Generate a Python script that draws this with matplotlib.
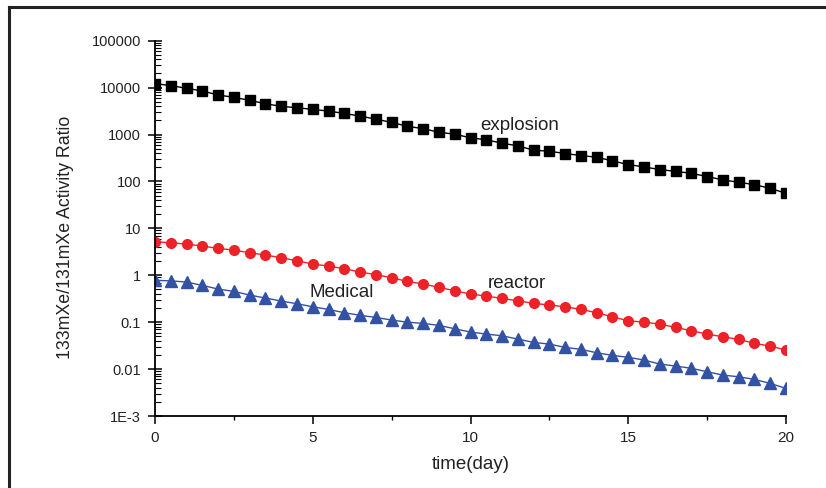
import numpy as np
import matplotlib
matplotlib.use("Agg")
import matplotlib.pyplot as plt
from matplotlib.lines import Line2D
from matplotlib.ticker import LogLocator, MultipleLocator

plt.rcParams['font.family'] = ['Liberation Sans', 'DejaVu Sans']

time_day = np.arange(0, 20.01, 0.5)

explosion = [12180, 11040, 9680, 8480, 6960, 6210, 5350, 4540, 3980, 3730, 3430,
             3160, 2820, 2470, 2130, 1810, 1500, 1330, 1122, 1016, 851, 772, 653,
             574, 463, 441, 393, 357, 328, 274, 229, 204, 179, 164, 149, 127, 108,
             96, 85.5, 71, 56]
reactor = [5.18, 4.93, 4.62, 4.19, 3.74, 3.44, 3.02, 2.70, 2.36, 2.04, 1.73, 1.57,
           1.38, 1.17, 1.03, 0.885, 0.74, 0.65, 0.552, 0.468, 0.397, 0.36, 0.321,
           0.286, 0.252, 0.232, 0.213, 0.187, 0.159, 0.130, 0.107, 0.100, 0.091,
           0.0775, 0.0656, 0.0557, 0.0489, 0.043, 0.0353, 0.031, 0.0254]
medical = [0.78, 0.76, 0.716, 0.608, 0.508, 0.453, 0.378, 0.327, 0.282, 0.247,
           0.213, 0.187, 0.159, 0.14, 0.126, 0.111, 0.1, 0.094, 0.0855, 0.0723,
           0.0615, 0.0557, 0.0513, 0.0436, 0.037, 0.0341, 0.029, 0.0263, 0.0223,
           0.0196, 0.0178, 0.0156, 0.0128, 0.0116, 0.0104, 0.00876, 0.00745,
           0.00685, 0.00603, 0.00495, 0.00387]

ytick_vals = [1e-3, 1e-2, 1e-1, 1, 10, 100, 1000, 10000, 100000]
ytick_labels = ['1E-3', '0.01', '0.1', '1', '10', '100', '1000', '10000', '100000']
xtick_vals = [0, 5, 10, 15, 20]
xtick_labels = ['0', '5', '10', '15', '20']

fig = plt.figure(figsize=(8.26, 4.88), dpi=100)
ax = fig.add_axes([155/826, 1-416/488, (786-155)/826, (416-40.7)/488])

ax.plot(time_day, explosion, color='black', marker='s', markersize=7, lw=1.0)
ax.plot(time_day, reactor, color='#ec2228', marker='o', markersize=7, lw=1.0)
ax.plot(time_day, medical, color='#3352a4', marker='^', markersize=8, lw=1.0)

ax.set_yscale('log')
ax.set_xlim(0, 20)
ax.set_ylim(1e-3, 1e5)
ax.set_yticks(ytick_vals)
ax.set_yticklabels(ytick_labels, fontsize=10.5, color='#222222')
ax.set_xticks(xtick_vals)
ax.set_xticklabels(xtick_labels, fontsize=11, color='#222222')
ax.yaxis.set_minor_locator(LogLocator(base=10, subs=np.arange(2, 10), numticks=20))
ax.yaxis.set_minor_formatter(plt.NullFormatter())
ax.xaxis.set_minor_locator(MultipleLocator(2.5))

for s in ['top', 'right']:
    ax.spines[s].set_visible(False)
for s in ['left', 'bottom']:
    ax.spines[s].set_linewidth(1.3)

ax.tick_params(axis='y', which='major', direction='inout', length=10, width=1.1, pad=5)
ax.tick_params(axis='y', which='minor', direction='in', length=4, width=0.8)
ax.tick_params(axis='x', which='major', direction='out', length=6, width=1.1, pad=5)
ax.tick_params(axis='x', which='minor', direction='out', length=3, width=1.0)

ax.set_xlabel('time(day)', fontsize=13.5, labelpad=8, color='#222222')
ax.set_ylabel('133mXe/131mXe Activity Ratio', fontsize=12.8, color='#222222')
ax.yaxis.set_label_coords(-0.128, 0.475)

ax.text(10.3, 1530, 'explosion', fontsize=13.5, ha='left', va='center', color='#222222')
ax.text(10.55, 0.68, 'reactor', fontsize=13.5, ha='left', va='center', color='#222222')
ax.text(4.9, 0.42, 'Medical', fontsize=13.5, ha='left', va='center', color='#222222')

# outer frame
fig.add_artist(Line2D([9/826, 1.0], [1-7/488, 1-7/488], color='#222222', lw=2.2, transform=fig.transFigure))
fig.add_artist(Line2D([9/826, 9/826], [0.0, 1-7/488], color='#222222', lw=2.2, transform=fig.transFigure))

fig.savefig('out.png', dpi=100)
